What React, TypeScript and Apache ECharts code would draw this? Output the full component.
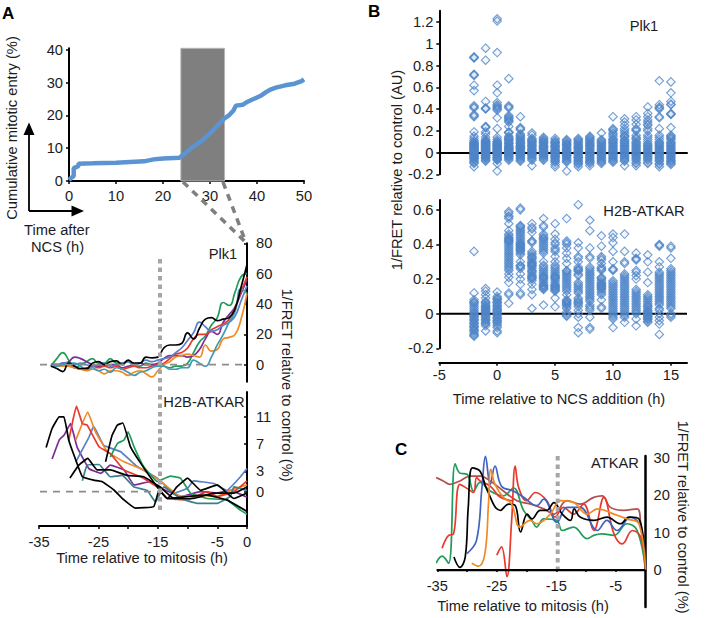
import React, { useEffect, useRef } from "react";
import * as echarts from "echarts";

type P = [number, number];
const FONT = "Liberation Sans";
const INK = "#1c1c1c";
const FS = 14.7;

const cumulativeEntry: P[] = [[0,0.3],[0.5,1],[1,1.5],[1,4],[1.5,4.2],[2,4.5],[2,5.3],[5,5.4],[10,5.6],[16,6],[18,6.6],[20,6.9],[23.5,7.1],[24.5,8.2],[26,10],[28,12],[30,14.5],[32,17.5],[33,19],[34,20],[35,21.5],[35.5,23],[37,23.3],[38,24.2],[40,25.5],[41,26.2],[42,27.2],[43,28],[44,28.5],[46,29.2],[48,29.7],[49.5,30.5],[50,31]];
const windowRange = [23.8, 33.1];

const plkHours = [-33,-32,-31,-30,-29,-28,-27,-26,-25,-24,-23,-22,-21,-20,-19,-18,-17,-16,-15,-14,-13,-12,-11,-10,-9,-8,-7,-6,-5,-4,-3,-2,-1,0];
const plkGreen = [-1,4,8,3,-2,0,2,4,1,1,4,1,1,2,-1,-1,1,0,0,-1,-2,-1,-1,1,8,15,19,26,31,41,39,48,58,60];
const plkPurple = [0,0,1,2,5,4,2,0,-1,-1,0,0,-2,-1,0,1,0,0,1,4,6,6,6,5,6,10,17,22,20,28,33,38,47,56];
const plkRed = [0,0,-1,-1,-2,-3,-2,-1,-2,-1,-2,-1,-3,-2,-1,-2,-2,-1,0,1,4,7,8,11,17,20,20,23,25,27,30,38,48,58];
const plkOrange = [0,-1,-1,-1,-2,-3,-4,-3,-4,-6,-4,-4,-5,-7,-5,-4,-6,-8,-4,0,2,5,6,7,6,5,13,9,10,17,18,20,30,47];
const plkBlue = [0,0,1,1,0,1,0,-1,0,1,-1,0,1,2,0,1,3,2,3,4,5,8,11,16,21,28,25,22,23,26,28,32,42,52];
const plkTeal = [-1,-1,0,1,1,-1,-3,-2,-4,-3,-5,-2,-3,-5,-7,-5,-4,-2,-1,-1,-3,-3,-2,-2,3,1,-1,5,13,20,28,35,50,47];
const plkBlack = [-1,-2.5,-4.5,1,-1,-2.5,-2.5,1,2,0,2,2.5,0,3,1,1,5,4.5,5,11,13,13,14,21,17,24,30,31,29,30,31,37,51,66];

const h2bBlack1: P[] = [[-33.8,6.5],[-32.8,9.3],[-31.6,11],[-30.8,11],[-30,7.6],[-29,5.1],[-27.7,2.2],[-25.8,1.7],[-24.4,1.5],[-22.4,0.25],[-20.7,-1.2],[-18.8,-2.4],[-15.7,-2.2],[-14.8,0.2],[-13.4,-1],[-10,-0.7],[-6.7,-0.5],[-3.4,-1.2],[0,-2.9]];
const h2bPurple: P[] = [[-32.8,4.8],[-31.6,7.6],[-30.8,8.3],[-29.7,10],[-28.6,6.6],[-26.6,3.4],[-24.6,2.7],[-23,3.9],[-20.7,3.2],[-19,1],[-16.2,1.5],[-14.5,0.5],[-11,-0.7],[-7.8,0],[-5,-0.2],[-2.8,0.2],[0,-0.8]];
const h2bRed: P[] = [[-30,7.5],[-29.3,10.5],[-28.7,12.6],[-27.7,10],[-26.9,9.8],[-24.9,6.6],[-23,5.6],[-20.7,3.2],[-17.9,2.2],[-15.1,0.7],[-13.4,-1],[-10,-1.2],[-6.7,0],[-5,-0.7],[-2.2,0],[0,1.6]];
const h2bOrange: P[] = [[-28.8,7.6],[-26.8,11.7],[-25.5,8.8],[-23.5,5.9],[-20.7,4.4],[-17.9,3.4],[-14.5,1.5],[-11.2,-0.7],[-7.8,-0.5],[-5,-0.7],[-2.8,0.2],[0,1]];
const h2bBlue: P[] = [[-28.8,4.4],[-26.6,8],[-25.8,9.6],[-24.1,6.8],[-21.3,5.9],[-18.5,3.7],[-15.1,2],[-12.3,-0.2],[-10,0.5],[-9,1.6],[-5.6,1.2],[-3.4,0.2],[-1.1,2.2],[0,3.4]];
const h2bGreen: P[] = [[-23,5.1],[-21.8,7.1],[-20.7,7.6],[-20,8.8],[-19,6.6],[-17.4,3.7],[-15.1,1.5],[-12.9,2.3],[-11.2,2],[-9.5,-0.2],[-6.7,-1],[-3.4,-1.2],[-1.1,-2.7],[0,-3.3]];
const h2bBlack2: P[] = [[-23.8,4.4],[-22.7,8.3],[-21.8,9.8],[-20.9,10.1],[-19.6,6.6],[-17.9,4.2],[-15.1,0.7],[-13.4,-1],[-11.8,0.7],[-10,2],[-7.8,0.2],[-5,1],[-2.2,-1],[0,-0.2]];
const h2bBlack3: P[] = [[-29.8,2],[-28.3,3.9],[-26.8,4.9],[-25.2,3.2],[-23,3.2],[-20.2,2.4],[-17.4,2.2],[-14.6,0.7],[-12.3,-1],[-9,-1],[-5.6,-0.2],[-2.2,-0.2],[0,0.7]];
const h2bTeal: P[] = [[-27.7,1.6],[-26.9,3.9],[-24.9,4],[-23,2.2],[-21,2.4],[-19,0.7],[-16.8,0.2],[-15.4,-1.5],[-14,0.7],[-11.2,-1],[-8.4,-1.7],[-5,-1.7],[-2.8,-0.7],[-2.2,0.7],[0,0.2]];

const atkarGreen: P[] = [[-35.2,1.8],[-34.2,3.7],[-33.1,1.8],[-32,28.5],[-31.2,26],[-30,25.7],[-28.9,21.2],[-27.8,23.5],[-26.1,21.2],[-23.9,19.9],[-22.2,22],[-20.5,16],[-19.1,13.3],[-18.3,11.5],[-17.1,13.7],[-14.9,13.3],[-14,10.6],[-12.1,11.5],[-9.8,8.4],[-8.7,9.3],[-7.3,9.7],[-5.3,9.3],[-3.1,12.4],[-1.4,10.6],[0,0]];
const atkarRed1: P[] = [[-34.2,5.8],[-33.1,9.3],[-32.3,9.6],[-31.2,23],[-29.8,21.7],[-28.9,20.8],[-28.4,24.8],[-27.8,23.9],[-26.1,22.5],[-24.4,19.5],[-22.2,18.6]];
const atkarRed2: P[] = [[-25,4],[-24.2,6.2],[-23.3,-1.8],[-22.5,13.3],[-21.9,27.9],[-21.3,22],[-20,18.6],[-18.5,20.8],[-16.6,18.6],[-15.2,14.2],[-13.8,16.8],[-12.1,15],[-10.4,17.7],[-8.7,10.6],[-7,19.5],[-5.3,9.7],[-3.9,7],[-2.2,10.6],[-0.8,8.8],[0,0]];
const atkarBlack: P[] = [[-32.2,3.5],[-31.2,0.7],[-30.3,3.5],[-29.8,16.8],[-29.1,27.4],[-27.8,26.5],[-26.7,21.7],[-24.4,16],[-23,17.7],[-21.9,17.3],[-21,10.2],[-19.9,15],[-19.1,13.7],[-17.7,16],[-16.6,16],[-15.4,18.1],[-14,15],[-12.6,13.3],[-12,16.4],[-11,14.2],[-8.7,13.3],[-6.5,14.2],[-4.2,12.4],[-2.8,14.2],[-1.1,13.7],[0,0]];
const atkarBlue: P[] = [[-30,4.4],[-28.4,8],[-27.5,22],[-26.9,30.5],[-26.1,23],[-25.3,27.9],[-24.2,22.5],[-22.2,21.2],[-20.5,19.5],[-18.3,17.3],[-17.1,19],[-14.9,12.8],[-13.2,16.8],[-11,16.8],[-8.1,10.6],[-6.5,13.3],[-4.8,10.6],[-2.5,14.2],[-0.8,11.5],[0,0]];
const atkarOrange: P[] = [[-29.2,1.8],[-28.1,1],[-27,4.4],[-26.4,17.7],[-26,27],[-25.3,23],[-23.9,19.5],[-22.5,17.7],[-21.1,11.5],[-19.4,13.3],[-18.3,12.4],[-16,15],[-14.3,18.6],[-12.1,18.1],[-9.8,15],[-8.1,16.4],[-5.3,15],[-3.1,13.7],[-1.1,12.4],[0,0]];
const atkarBrown: P[] = [[-35.2,24.8],[-34,23.9],[-32.9,23],[-31.2,23.9],[-29.5,25.2],[-27.8,25.2],[-26.1,23.9],[-23.9,21.2],[-21.6,18.6],[-19.4,17.7],[-17.1,16.4],[-15.4,15],[-13.2,18.6],[-11,17.7],[-8.7,19.5],[-7.3,19.9],[-5.9,16.8],[-3.7,16],[-1.4,16.4],[-0.8,12],[0,0]];

const hoursB = [-2,-1,0,1,2,3,4,5,6,7,8,9,10,11,12,13,14,15];
const plkColumns: number[][] = [
  [-0.13,-0.1,-0.09,-0.07,-0.06,-0.05,-0.04,-0.03,-0.02,-0.01,0,0.01,0.02,0.03,0.04,0.05,0.06,0.07,0.08,0.09,0.1,0.11,0.13,0.15,0.19,0.33,0.35,0.41,0.43,0.57,0.62,0.71,0.72,0.87,0.88],
  [-0.08,-0.06,-0.05,-0.04,-0.03,-0.02,-0.01,0,0.01,0.02,0.03,0.04,0.05,0.06,0.07,0.08,0.09,0.1,0.11,0.12,0.14,0.17,0.19,0.23,0.24,0.4,0.41,0.47,0.85,0.96],
  [-0.17,-0.1,-0.07,-0.06,-0.05,-0.04,-0.03,-0.02,-0.01,0,0.01,0.02,0.03,0.04,0.05,0.06,0.07,0.08,0.09,0.1,0.12,0.14,0.22,0.32,0.39,0.41,0.42,0.44,0.46,0.55,0.62,0.92,1.21,1.23],
  [-0.07,-0.05,-0.04,-0.03,-0.02,-0.01,0,0.01,0.02,0.03,0.04,0.05,0.06,0.08,0.09,0.1,0.12,0.13,0.15,0.18,0.19,0.24,0.28,0.3,0.32,0.34,0.41,0.43,0.68],
  [-0.08,-0.06,-0.05,-0.03,-0.02,-0.01,0,0.01,0.03,0.04,0.05,0.06,0.08,0.09,0.1,0.12,0.14,0.15,0.17,0.21,0.23,0.33],
  [-0.12,-0.07,-0.05,-0.04,-0.02,-0.01,0,0.02,0.03,0.04,0.06,0.07,0.08,0.1,0.11,0.13,0.16,0.18],
  [-0.07,-0.06,-0.05,-0.03,-0.02,-0.01,0,0.01,0.02,0.04,0.05,0.06,0.07,0.09,0.1,0.12,0.14],
  [-0.13,-0.11,-0.09,-0.07,-0.06,-0.04,-0.03,-0.02,0,0.01,0.02,0.03,0.05,0.06,0.07,0.09,0.1,0.13],
  [-0.17,-0.09,-0.08,-0.06,-0.05,-0.03,-0.02,-0.01,0,0.02,0.03,0.04,0.06,0.07,0.08,0.1,0.12],
  [-0.13,-0.11,-0.1,-0.08,-0.07,-0.05,-0.04,-0.03,-0.01,0,0.01,0.02,0.04,0.05,0.07,0.08,0.1,0.11,0.13],
  [-0.12,-0.1,-0.09,-0.07,-0.05,-0.04,-0.02,-0.01,0,0.01,0.03,0.04,0.06,0.07,0.09,0.1,0.12,0.14,0.15],
  [-0.1,-0.08,-0.07,-0.05,-0.03,-0.02,-0.01,0,0.02,0.03,0.04,0.06,0.07,0.09,0.1,0.12,0.18],
  [-0.09,-0.07,-0.06,-0.04,-0.03,-0.02,0,0.01,0.02,0.04,0.05,0.07,0.08,0.1,0.12,0.15,0.18,0.2,0.22,0.33],
  [-0.12,-0.08,-0.06,-0.05,-0.03,-0.01,0,0.02,0.03,0.05,0.06,0.08,0.1,0.12,0.15,0.2,0.25,0.28,0.31],
  [-0.12,-0.1,-0.07,-0.05,-0.04,-0.02,0,0.01,0.03,0.04,0.06,0.08,0.1,0.13,0.16,0.2,0.22,0.26,0.3,0.33],
  [-0.1,-0.07,-0.05,-0.03,-0.02,0,0.01,0.03,0.05,0.06,0.08,0.12,0.2,0.25,0.28,0.33,0.36,0.42],
  [-0.13,-0.1,-0.08,-0.06,-0.04,-0.02,0,0.02,0.03,0.05,0.07,0.08,0.12,0.16,0.22,0.32,0.33,0.4,0.42,0.44,0.66],
  [-0.11,-0.1,-0.08,-0.07,-0.05,-0.03,-0.02,0,0.02,0.03,0.05,0.07,0.09,0.12,0.14,0.16,0.23,0.35,0.36,0.44,0.47,0.55,0.65],
];
const plkColumnsMore: number[][] = [
  [-0.085,-0.055,-0.035,-0.015,0.005,0.015,0.025,0.035,0.045,0.055,0.065,0.075,0.085,0.34,0.42,0.715,0.875],
  [-0.07,-0.045,-0.025,-0.005,0.005,0.015,0.025,0.035,0.045,0.055,0.065,0.075,0.085,0.095,0.105,0.235,0.405],
  [-0.065,-0.045,-0.025,-0.005,0.005,0.015,0.025,0.035,0.045,0.055,0.065,0.075,0.085,0.105,0.4,0.43],
  [-0.06,-0.035,-0.015,0.005,0.015,0.025,0.035,0.045,0.055,0.07,0.085,0.11,0.125,0.14,0.185,0.29,0.31,0.33,0.42],
  [-0.07,-0.04,-0.025,-0.005,0.005,0.02,0.035,0.045,0.055,0.07,0.085,0.11,0.13,0.16,0.22],
  [-0.06,-0.03,-0.015,0.01,0.025,0.05,0.065,0.09,0.105,0.12],
  [-0.04,-0.025,-0.005,0.005,0.015,0.03,0.045,0.055,0.08,0.095,0.11,0.13],
  [-0.08,-0.05,-0.035,-0.01,0.005,0.015,0.04,0.055,0.08,0.095,0.115],
  [-0.07,-0.04,-0.025,0.01,0.025,0.05,0.075,0.09,0.11],
  [-0.09,-0.06,-0.045,-0.02,-0.005,0.005,0.03,0.045,0.06,0.09,0.12],
  [-0.08,-0.06,-0.03,-0.005,0.02,0.05,0.065,0.08,0.11,0.13],
  [-0.09,-0.06,-0.04,-0.015,0.01,0.05,0.08,0.11],
  [-0.08,-0.05,-0.01,0.03,0.06,0.09,0.11,0.13,0.165,0.21],
  [-0.07,-0.04,-0.02,0.01,0.04,0.07,0.09,0.11,0.14,0.16,0.18,0.22],
  [-0.09,-0.06,-0.03,-0.01,0.02,0.05,0.07,0.09,0.12,0.14,0.21],
  [-0.09,-0.06,-0.04,-0.01,0.02,0.04,0.07,0.1,0.14,0.16,0.22,0.26,0.3],
  [-0.11,-0.07,-0.05,-0.03,-0.01,0.01,0.04,0.06,0.09,0.1,0.14,0.41],
  [-0.09,-0.06,-0.04,-0.01,0.01,0.04,0.06,0.08,0.1,0.13,0.15,0.355,0.445],
];
const h2bColumns: number[][] = [
  [-0.13,-0.12,-0.11,-0.1,-0.09,-0.08,-0.07,-0.06,-0.05,-0.04,-0.03,-0.02,-0.01,0,0.01,0.03,0.05,0.06,0.07,0.08,0.12,0.36],
  [-0.1,-0.07,-0.06,-0.05,-0.04,-0.03,-0.02,-0.01,0,0.01,0.02,0.03,0.04,0.05,0.06,0.07,0.09,0.11,0.13,0.145],
  [-0.11,-0.1,-0.08,-0.06,-0.05,-0.04,-0.03,-0.02,-0.01,0,0.01,0.02,0.03,0.04,0.05,0.06,0.07,0.08,0.09,0.1,0.125],
  [0.06,0.11,0.12,0.18,0.21,0.23,0.25,0.27,0.29,0.3,0.32,0.33,0.34,0.36,0.38,0.39,0.41,0.42,0.43,0.44,0.46,0.48,0.52,0.55,0.56,0.58,0.59],
  [0.11,0.12,0.17,0.2,0.23,0.27,0.28,0.3,0.34,0.36,0.37,0.38,0.39,0.4,0.41,0.43,0.45,0.48,0.5,0.51,0.6,0.61],
  [0.03,0.11,0.14,0.17,0.19,0.2,0.21,0.22,0.24,0.25,0.27,0.28,0.29,0.3,0.32,0.33,0.34,0.36,0.41,0.42,0.47,0.49,0.5,0.52],
  [0.05,0.14,0.15,0.16,0.17,0.18,0.2,0.21,0.22,0.24,0.25,0.27,0.3,0.35,0.36,0.38,0.39,0.4,0.42,0.43,0.44,0.46,0.5,0.51,0.55],
  [0.04,0.09,0.13,0.14,0.15,0.16,0.17,0.18,0.2,0.21,0.22,0.24,0.25,0.27,0.3,0.33,0.36,0.38,0.4,0.43,0.46,0.52],
  [-0.015,-0.01,0,0.01,0.03,0.05,0.06,0.07,0.08,0.11,0.13,0.15,0.17,0.2,0.22,0.24,0.25,0.29,0.32,0.35,0.38,0.4,0.41,0.42,0.55],
  [-0.11,-0.08,-0.02,0,0.02,0.04,0.06,0.07,0.09,0.12,0.13,0.16,0.18,0.22,0.25,0.26,0.32,0.33,0.38,0.41,0.63],
  [-0.09,-0.08,-0.02,0.02,0.03,0.05,0.07,0.09,0.11,0.13,0.15,0.17,0.19,0.2,0.22,0.24,0.27,0.32,0.33,0.38,0.48,0.54],
  [0.03,0.04,0.08,0.11,0.12,0.13,0.15,0.16,0.17,0.18,0.2,0.21,0.25,0.26,0.29,0.32,0.33,0.39,0.45],
  [-0.08,-0.03,-0.02,0,0.02,0.04,0.05,0.07,0.08,0.1,0.12,0.13,0.15,0.17,0.19,0.25,0.26,0.3,0.36,0.41,0.44,0.46],
  [-0.05,-0.02,0,0.02,0.03,0.05,0.07,0.09,0.1,0.12,0.14,0.16,0.18,0.21,0.23,0.29,0.3,0.36,0.46],
  [-0.07,-0.03,0,0.02,0.04,0.05,0.07,0.09,0.1,0.12,0.14,0.2,0.22,0.25,0.31,0.32,0.35],
  [-0.05,-0.03,-0.02,-0.01,0,0.01,0.02,0.04,0.05,0.06,0.08,0.09,0.11,0.18,0.24,0.3,0.34],
  [-0.12,-0.06,-0.04,-0.02,0,0.02,0.03,0.05,0.08,0.1,0.12,0.14,0.16,0.18,0.2,0.22,0.24,0.27,0.3,0.39,0.4],
  [-0.02,-0.01,0,0.03,0.05,0.07,0.08,0.1,0.12,0.13,0.15,0.16,0.18,0.2,0.22,0.24,0.26,0.32,0.38,0.39],
];
const h2bColumnsMore: number[][] = [
  [-0.125,-0.095,-0.075,-0.055,-0.035,-0.015,0.005,0.02,0.04,0.065],
  [-0.055,-0.035,-0.015,0.005,0.015,0.025,0.035,0.045,0.065],
  [-0.07,-0.045,-0.025,-0.005,0.015,0.025,0.045,0.065,0.085],
  [0.26,0.28,0.31,0.35,0.37,0.4,0.415,0.425,0.435,0.45,0.565],
  [0.26,0.35,0.365,0.375,0.385,0.395,0.405,0.42,0.44,0.46,0.47,0.49,0.505,0.275],
  [0.205,0.215,0.23,0.245,0.26,0.275,0.285,0.295,0.31,0.325,0.35,0.42],
  [0.145,0.155,0.165,0.19,0.205,0.215,0.23,0.26,0.28,0.37,0.41,0.435,0.45],
  [0.135,0.145,0.155,0.165,0.19,0.205,0.215,0.23,0.26,0.28,0.37,0.41],
  [0.04,0.055,0.065,0.075,0.14,0.16,0.18,0.19,0.21,0.23,0.245],
  [0.05,0.065,0.08,0.14,0.15,0.17,0.23,0.245,0.255,0.27,0.3],
  [0.04,0.08,0.1,0.12,0.14,0.16,0.18,0.21,0.23,0.25,0.26],
  [0.14,0.145,0.155,0.165,0.175,0.19,0.205,0.26,0.27,0.31],
  [-0.01,0.01,0.03,0.06,0.09,0.11,0.14,0.16,0.18,0.255],
  [-0.01,0.01,0.04,0.06,0.08,0.11,0.13,0.15,0.17,0.19,0.2,0.22],
  [0.01,0.03,0.06,0.08,0.11,0.13,0.24,0.315],
  [-0.045,-0.035,-0.025,-0.015,-0.005,0.005,0.015,0.03,0.045,0.07,0.1],
  [0.06,0.07,0.09,0.11,0.13,0.15,0.17,0.19,0.21,0.23,0.395],
  [0.04,0.06,0.09,0.11,0.14,0.17,0.19,0.21,0.23,0.25],
];
const zeroLineB: P[] = [[-5,0],[16.39,0]];

const C = { green: "#1f9c5a", purple: "#7c2d96", red: "#e83a2c", orange: "#f08a24", blue: "#5a7fc8", teal: "#3f9ab5", deepTeal: "#3a7f8c", brown: "#b2504f", black: "#000000" };

function zip(xs: number[], ys: number[]): P[] { return xs.map((x, i) => [x, ys[i]] as P); }
function columnsToPoints(...sets: number[][][]): P[] {
  const out: P[] = [];
  sets.forEach((cols) => cols.forEach((c, i) => c.forEach((v) => out.push([hoursB[i], v]))));
  return out;
}
function lineS(name: string, data: P[], color: string, grid: number, smooth: number | boolean, width = 1.7): any {
  return { type: "line", name, data, xAxisIndex: grid, yAxisIndex: grid, smooth, showSymbol: false, symbol: "none", clip: false, lineStyle: { color, width }, z: 3 };
}
function diamonds(name: string, data: P[], xIdx: number, yIdx: number): any {
  return { type: "scatter", name, data, xAxisIndex: xIdx, yAxisIndex: yIdx, symbol: "diamond", symbolSize: 8.5, clip: false, itemStyle: { color: "rgba(79,134,200,0.08)", borderColor: "#4f86c8", borderWidth: 1.1, opacity: 0.8 }, z: 3 };
}
const label = (o: any = {}) => ({ color: INK, fontFamily: FONT, fontSize: FS, margin: 6, ...o });
const line2 = { lineStyle: { color: "#000", width: 2 } };
const tick = (len = 3, o: any = {}) => ({ show: true, length: len, lineStyle: { color: "#000", width: 1.5 }, ...o });

function txt(text: string, x: number, y: number, o: any = {}): any {
  return { type: "text", x, y, rotation: o.rotation || 0, z: 20, style: { text, x: 0, y: 0, fill: o.fill || INK, font: `${o.weight || "normal"} ${o.size || FS}px "${FONT}"`, textAlign: o.align || "center", textVerticalAlign: "middle" } };
}
function seg(x1: number, y1: number, x2: number, y2: number, color: string, width: number, dash?: number[], z = 10): any {
  return { type: "line", shape: { x1, y1, x2, y2 }, z, style: { stroke: color, lineWidth: width, lineDash: dash } };
}

export default function App() {
  const ref = useRef<HTMLDivElement>(null);
  useEffect(() => {
    const chart = echarts.init(ref.current!, undefined, { renderer: "svg" });
    const grids = [
      { left: 69, top: 48.3, width: 235, height: 132.7 },
      { left: 39, top: 243.3, width: 208, height: 138.4 },
      { left: 39, top: 392, width: 208, height: 134 },
      { left: 439.3, top: 10.7, width: 247.7, height: 163.6 },
      { left: 439.3, top: 200, width: 247.7, height: 148.3 },
      { left: 437.3, top: 456, width: 208.2, height: 151 },
    ].map((g) => ({ ...g, outerBoundsMode: "none" }));
    const option: any = {
      animation: false,
      backgroundColor: "#fff",
      textStyle: { fontFamily: FONT },
      grid: grids,
      xAxis: [
        { type: "value", gridIndex: 0, min: 0, max: 50, splitLine: { show: false }, axisLine: line2, axisTick: tick(3, { customValues: [0,10,20,30,40,50] }), axisLabel: label({ customValues: [0,10,20,30,40,50], margin: 7 }) },
        { type: "value", gridIndex: 1, min: -35, max: 0, show: false },
        { type: "value", gridIndex: 2, min: -35, max: 0, splitLine: { show: false }, axisLine: { onZero: false, ...line2 }, axisTick: tick(3, { customValues: [-35,-30,-25,-20,-15,-10,-5,0] }), axisLabel: label({ customValues: [-35,-25,-15,-5,0], margin: 8 }) },
        { type: "value", gridIndex: 3, min: -5, max: 16.39, splitLine: { show: false }, axisLine: { onZero: true, ...line2 }, axisTick: { show: false }, axisLabel: { show: false } },
        { type: "value", gridIndex: 4, min: -5, max: 16.39, offset: 14.4, splitLine: { show: false }, axisLine: { onZero: false, ...line2 }, axisTick: tick(3, { customValues: [-5,0,5,10,15] }), axisLabel: label({ customValues: [-5,0,5,10,15], margin: 5 }) },
        { type: "value", gridIndex: 5, min: -35, max: 0, offset: -37, splitLine: { show: false }, axisLine: { onZero: false, ...line2 }, axisTick: tick(2, { customValues: [-35,-30,-25,-20,-15,-10,-5] }), axisLabel: label({ customValues: [-35,-25,-15,-5], margin: 8 }) },
      ],
      yAxis: [
        { type: "value", gridIndex: 0, min: 0, max: 40.5, splitLine: { show: false }, axisLine: line2, axisTick: tick(3, { customValues: [0,10,20,30,40] }), axisLabel: label({ customValues: [0,10,20,30,40] }) },
        { type: "value", gridIndex: 1, position: "right", min: -11.2, max: 80, splitLine: { show: false }, axisLine: { onZero: false, ...line2 }, axisTick: tick(3, { customValues: [0,20,40,60,80], inside: true }), axisLabel: label({ customValues: [0,20,40,60,80], margin: 9 }) },
        { type: "value", gridIndex: 2, position: "right", min: -5.04, max: 14.66, splitLine: { show: false }, axisLine: { onZero: false, ...line2 }, axisTick: tick(3, { customValues: [0,3,7,11], inside: true }), axisLabel: label({ customValues: [0,3,7,11], margin: 9 }) },
        { type: "value", gridIndex: 3, min: -0.2, max: 1.305, splitLine: { show: false }, axisLine: { onZero: false, ...line2 }, axisTick: tick(3, { customValues: [-0.2,0,0.2,0.4,0.6,0.8,1,1.2] }), axisLabel: label({ customValues: [-0.2,0,0.2,0.4,0.6,0.8,1,1.2] }) },
        { type: "value", gridIndex: 4, min: -0.2, max: 0.657, splitLine: { show: false }, axisLine: { onZero: false, ...line2 }, axisTick: tick(3, { customValues: [-0.2,0,0.2,0.4,0.6] }), axisLabel: label({ customValues: [-0.2,0,0.2,0.4,0.6] }) },
        { type: "value", gridIndex: 5, position: "right", min: -9.95, max: 30.6, splitLine: { show: false }, axisLine: { onZero: false, lineStyle: { color: "#000", width: 2.5 } }, axisTick: { show: false }, axisLabel: label({ customValues: [0,10,20,30], margin: 8 }) },
      ],
      series: [
        { type: "line", name: "Cumulative mitotic entry", data: cumulativeEntry, xAxisIndex: 0, yAxisIndex: 0, symbol: "none", clip: false, lineStyle: { color: "#5b94d0", width: 4.5 }, z: 3,
          markArea: { silent: true, itemStyle: { color: "#7f7f7f", borderColor: "#b5b5b5", borderWidth: 1 }, z: 1, data: [[{ coord: [windowRange[0], 0] }, { coord: [windowRange[1], 40.5] }]] } },

        lineS("Plk1 green", zip(plkHours, plkGreen), C.green, 1, 0.5),
        lineS("Plk1 purple", zip(plkHours, plkPurple), C.purple, 1, 0.5),
        lineS("Plk1 red", zip(plkHours, plkRed), C.red, 1, 0.5),
        lineS("Plk1 orange", zip(plkHours, plkOrange), C.orange, 1, 0.5),
        lineS("Plk1 blue", zip(plkHours, plkBlue), C.blue, 1, 0.5),
        lineS("Plk1 teal", zip(plkHours, plkTeal), C.teal, 1, 0.5),
        lineS("Plk1 black", zip(plkHours, plkBlack), C.black, 1, 0.5),

        lineS("H2B purple", h2bPurple, C.purple, 2, 0.1),
        lineS("H2B blue", h2bBlue, C.blue, 2, 0.1),
        lineS("H2B orange", h2bOrange, C.orange, 2, 0.1),
        lineS("H2B red", h2bRed, C.red, 2, 0.1),
        lineS("H2B green", h2bGreen, C.green, 2, 0.1),
        lineS("H2B teal", h2bTeal, C.deepTeal, 2, 0.1),
        lineS("H2B black 1", h2bBlack1, C.black, 2, 0.1),
        lineS("H2B black 2", h2bBlack2, C.black, 2, 0.1),
        lineS("H2B black 3", h2bBlack3, C.black, 2, 0.1),

        { type: "line", name: "zero B", data: zeroLineB, xAxisIndex: 4, yAxisIndex: 4, symbol: "none", lineStyle: { color: "#000", width: 2 }, z: 1 },
        diamonds("Plk1", columnsToPoints(plkColumns, plkColumnsMore), 3, 3),
        diamonds("H2B-ATKAR", columnsToPoints(h2bColumns, h2bColumnsMore), 4, 4),

        lineS("ATKAR brown", atkarBrown, C.brown, 5, 0.4),
        lineS("ATKAR green", atkarGreen, C.green, 5, 0.4),
        lineS("ATKAR red 1", atkarRed1, C.red, 5, 0.4),
        lineS("ATKAR red 2", atkarRed2, C.red, 5, 0.4),
        lineS("ATKAR blue", atkarBlue, "#3f63c0", 5, 0.4),
        lineS("ATKAR black", atkarBlack, C.black, 5, 0.4),
        lineS("ATKAR orange", atkarOrange, C.orange, 5, 0.4),
      ],
      graphic: [
        { type: "rect", z: 15, shape: { x: 437.3, y: 569, width: 208, height: 2.2 }, style: { fill: "#000" } },
        txt("A", 2, 13, { size: 17, weight: "bold", align: "left", fill: "#000" }),
        txt("B", 368, 11, { size: 17, weight: "bold", align: "left", fill: "#000" }),
        txt("C", 395, 449, { size: 17, weight: "bold", align: "left", fill: "#000" }),
        txt("Cumulative mitotic entry (%)", 12, 128, { rotation: Math.PI / 2 }),
        txt("Time after", 24, 230, { align: "left" }),
        txt("NCS (h)", 31, 247, { align: "left" }),
        txt("Plk1", 223, 254),
        txt("H2B-ATKAR", 204, 402),
        txt("1/FRET relative to control (%)", 287, 385, { rotation: -Math.PI / 2 }),
        txt("Time relative to mitosis (h)", 142, 558),
        txt("1/FRET relative to control (AU)", 397, 170, { rotation: Math.PI / 2 }),
        txt("Plk1", 644, 26),
        txt("H2B-ATKAR", 644, 211),
        txt("Time relative to NCS addition (h)", 559, 399),
        txt("ATKAR", 615, 463),
        txt("Time relative to mitosis (h)", 523, 606),
        txt("1/FRET relative to control (%)", 683, 517, { rotation: -Math.PI / 2 }),
        seg(29, 211, 29, 130, "#000", 1.8),
        seg(29, 211, 76, 211, "#000", 1.8),
        { type: "polygon", z: 10, shape: { points: [[29, 122.5], [23.5, 135], [34.5, 135]] }, style: { fill: "#000" } },
        { type: "polygon", z: 10, shape: { points: [[84, 211], [71.5, 205.5], [71.5, 216.5]] }, style: { fill: "#000" } },
        seg(183, 182, 246.5, 243, "#7f7f7f", 3.5, [7, 6]),
        seg(223, 182, 245, 240, "#7f7f7f", 3.5, [7, 6]),
        seg(40, 364.7, 246, 364.7, "#8c8c8c", 1.8, [7, 6]),
        seg(40, 491.7, 158, 491.7, "#8c8c8c", 1.8, [7, 6]),
        seg(160, 259, 160, 514, "#a6a6a6", 4, [4.5, 4]),
        seg(557.7, 456, 557.7, 570, "#a6a6a6", 4, [4.5, 4]),
      ],
    };
    chart.setOption(option);
    return () => chart.dispose();
  }, []);
  return <div ref={ref} style={{ position: "absolute", left: 0, top: 0, width: 709, height: 618 }} />;
}
